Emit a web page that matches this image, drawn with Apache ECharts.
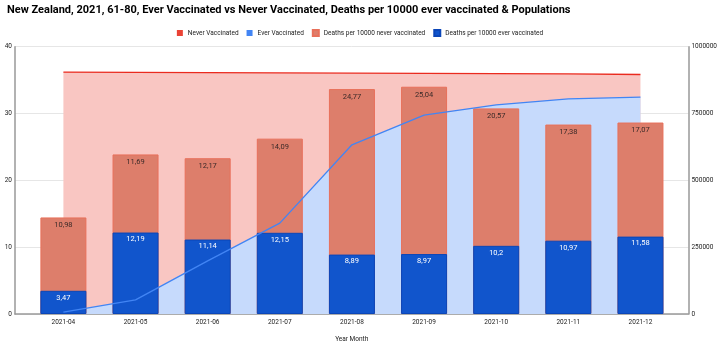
<!DOCTYPE html>
<html><head><meta charset="utf-8">
<script src="https://cdn.jsdelivr.net/npm/echarts@6/dist/echarts.min.js"></script>
<style>html,body{margin:0;padding:0;background:#fff}#c{width:720px;height:348px}</style>
</head><body><div id="c"></div>
<script>
const categories = ['2021-04','2021-05','2021-06','2021-07','2021-08','2021-09','2021-10','2021-11','2021-12'];
const everVaccinatedPop = [7400, 53000, 199000, 340000, 633000, 744000, 782000, 805000, 811000];
const neverVaccinatedPop = [897600, 851000, 704000, 562000, 268000, 156000, 117000, 93000, 85000];
const deathsEver = [3.47, 12.19, 11.14, 12.15, 8.89, 8.97, 10.2, 10.97, 11.58];
const deathsNever = [10.98, 11.69, 12.17, 14.09, 24.77, 25.04, 20.57, 17.38, 17.07];
const leftTicks = [0, 10, 20, 30, 40];
const rightTicks = [0, 250000, 500000, 750000, 1000000];

const F = 'Roboto, Arial, sans-serif';
const idx = categories.map((c, i) => i);
const pts = arr => arr.map((v, i) => [i, v]);
const fmt = v => String(v).replace('.', ',');
// stacked tops (stack drawn as overlay: total behind, lower part in front)
const popTotal = everVaccinatedPop.map((v, i) => v + neverVaccinatedPop[i]);
const deathsTotal = deathsEver.map((v, i) => +(v + deathsNever[i]).toFixed(2));

const chart = echarts.init(document.getElementById('c'));
chart.setOption({
  animation: false,
  textStyle: { fontFamily: F },
  title: {
    text: 'New Zealand, 2021, 61-80, Ever Vaccinated vs Never Vaccinated, Deaths per 10000 ever vaccinated & Populations',
    left: 2, top: 0,
    textStyle: { fontFamily: F, fontSize: 11, fontWeight: 'bold', color: '#000' }
  },
  legend: {
    top: 24, left: 'center',
    itemWidth: 6, itemHeight: 6, itemGap: 8,
    icon: 'rect',
    textStyle: { fontFamily: F, fontSize: 6.5, color: '#222' },
    data: ['Never Vaccinated', 'Ever Vaccinated', 'Deaths per 10000 never vaccinated', 'Deaths per 10000 ever vaccinated']
  },
  grid: { left: 15, right: 30, top: 46.7, bottom: 31, containLabel: false },
  xAxis: {
    type: 'value',
    min: -0.671, max: 8.665,
    name: 'Year Month', nameLocation: 'middle', nameGap: 22,
    nameTextStyle: { fontFamily: F, fontSize: 6.5, color: '#222' },
    axisLine: { show: true, onZero: false, lineStyle: { color: '#999', width: 1.5 } },
    axisTick: { show: false },
    splitLine: { show: false },
    axisLabel: {
      customValues: idx,
      formatter: v => categories[Math.round(v)] || '',
      fontSize: 6.5, color: '#222', margin: 5
    }
  },
  yAxis: [
    {
      type: 'value', min: 0, max: 40, interval: 10, position: 'left',
      axisLine: { show: true, onZero: false, lineStyle: { color: '#999', width: 1.5 } },
      axisTick: { show: false },
      splitLine: { lineStyle: { color: '#e6e6e6' } },
      axisLabel: { fontSize: 6.5, color: '#222', margin: 3, customValues: leftTicks }
    },
    {
      type: 'value', min: 0, max: 1000000, interval: 250000, position: 'right',
      axisLine: { show: true, onZero: false, lineStyle: { color: '#999', width: 1.5 } },
      axisTick: { show: false },
      splitLine: { show: false },
      axisLabel: { fontSize: 6.5, color: '#222', margin: 3, customValues: rightTicks, formatter: v => String(v) }
    }
  ],
  series: [
    {
      name: 'Never Vaccinated', type: 'line', yAxisIndex: 1, z: 1,
      data: pts(popTotal), symbol: 'none',
      itemStyle: { color: '#ea4335' },
      lineStyle: { color: '#ea2b1f', width: 1.3 },
      areaStyle: { color: '#f9c6c2', opacity: 1 }
    },
    {
      name: 'Ever Vaccinated', type: 'line', yAxisIndex: 1, z: 1,
      data: pts(everVaccinatedPop), symbol: 'none',
      itemStyle: { color: '#4285f4' },
      lineStyle: { width: 0, opacity: 0 },
      areaStyle: { color: '#c6dafc', opacity: 1 }
    },
    {
      name: 'Deaths per 10000 never vaccinated', type: 'bar', yAxisIndex: 0, z: 2,
      data: pts(deathsTotal), barWidth: 46, barGap: '-100%',
      itemStyle: { color: '#dd7e6b', borderColor: '#e8705a', borderWidth: 1 },
      label: { show: true, position: 'insideTop', distance: 4, fontSize: 7.5, color: '#3a2a28', fontFamily: F,
        formatter: p => fmt(deathsNever[p.dataIndex]) }
    },
    {
      name: 'Deaths per 10000 ever vaccinated', type: 'bar', yAxisIndex: 0, z: 2,
      data: pts(deathsEver), barWidth: 46, barGap: '-100%',
      itemStyle: { color: '#1155cc', borderColor: '#0b46b8', borderWidth: 1 },
      label: { show: true, position: 'insideTop', distance: 3, fontSize: 7.5, color: '#fff', fontFamily: F,
        formatter: p => fmt(p.value[1]) }
    },
    {
      name: 'Ever Vaccinated', type: 'line', yAxisIndex: 1, z: 3,
      data: pts(everVaccinatedPop), symbol: 'none',
      itemStyle: { color: '#4285f4' },
      lineStyle: { color: '#4285f4', width: 1.3 }
    }
  ]
});
</script></body></html>
